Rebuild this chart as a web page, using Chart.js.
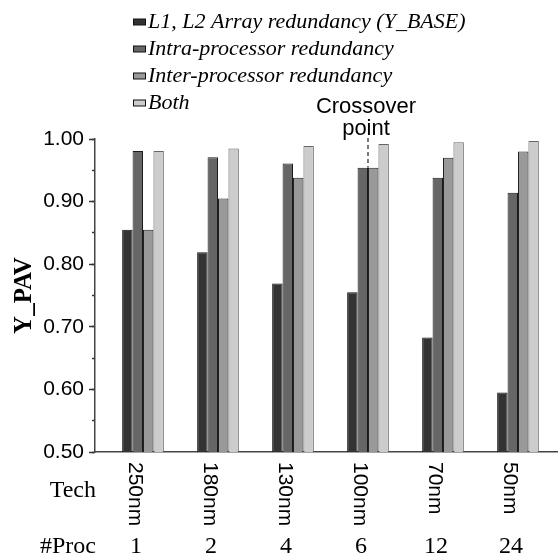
<!DOCTYPE html>
<html>
<head>
<meta charset="utf-8">
<script src="https://cdn.jsdelivr.net/npm/chart.js@4.4.1/dist/chart.umd.min.js"></script>
<style>
  html, body { margin: 0; padding: 0; background: #fff; }
  canvas { display: block; }
</style>
</head>
<body>
<canvas id="c" width="560" height="557"></canvas>
<script>
const techLabels = ['250nm', '180nm', '130nm', '100nm', '70nm', '50nm'];
const procLabels = ['1', '2', '4', '6', '12', '24'];
const seriesNames = ['L1, L2 Array redundancy (Y_BASE)', 'Intra-processor redundancy', 'Inter-processor redundancy', 'Both'];
const baseY  = [0.855, 0.819, 0.769, 0.755, 0.683, 0.595];
const intraY = [0.981, 0.971, 0.961, 0.954, 0.938, 0.914];
const interY = [0.855, 0.905, 0.938, 0.954, 0.970, 0.980];
const bothY  = [0.981, 0.985, 0.989, 0.992, 0.995, 0.997];
const yTickValues = [0.5, 0.6, 0.7, 0.8, 0.9, 1.0];
const crossoverIndex = 3;
const crossoverText = ['Crossover', 'point'];
const rowTitles = ['Tech', '#Proc'];

const fills = ['#333333', '#666666', '#999999', '#cccccc'];
const borders = ['#111111', '#1a1a1a', '#222222', '#666666'];

function legendImage(fill, border) {
  const cv = document.createElement('canvas');
  cv.width = 30; cv.height = 9;
  const g = cv.getContext('2d');
  g.fillStyle = fill;
  g.fillRect(13.5, 1.5, 12, 6);
  g.strokeStyle = border;
  g.lineWidth = 1;
  g.strokeRect(13.5, 1.5, 12, 6);
  return cv;
}
const legendImgs = fills.map((f) => legendImage(f, '#111'));

const allSeries = [baseY, intraY, interY, bothY];
const datasets = allSeries.map((vals, i) => ({
  label: seriesNames[i],
  data: vals.map((v, j) => ({ x: j, y: v })),
  backgroundColor: fills[i],
  borderColor: borders[i],
  borderWidth: 1,
  categoryPercentage: 0.556,
  barPercentage: 1.0
}));

const overlayPlugin = {
  id: 'overlay',
  afterLayout(chart) {
    const lg = chart.legend;
    if (lg) {
      lg.left = 128; lg.top = 6;
      lg.right = lg.left + 420; lg.bottom = lg.top + 200;
    }
  },
  afterDraw(chart) {
    const ctx = chart.ctx;
    const xs = chart.scales.x, ys = chart.scales.y;
    ctx.save();
    ctx.fillStyle = '#000';
    ctx.font = '21px "Liberation Sans", Arial, sans-serif';
    ctx.textAlign = 'left';
    ctx.textBaseline = 'alphabetic';
    techLabels.forEach((t, i) => {
      const px = xs.getPixelForValue(i);
      ctx.save();
      ctx.translate(px - 13.8, ys.bottom + 10);
      ctx.rotate(Math.PI / 2);
      ctx.fillText(t, 0, 0);
      ctx.restore();
    });
    ctx.font = '24px "Liberation Serif", "Times New Roman", serif';
    ctx.textAlign = 'right';
    ctx.textBaseline = 'middle';
    ctx.fillText(rowTitles[0], ys.right + 1, ys.bottom + 39);
    ctx.fillText(rowTitles[1], ys.right + 1, ys.bottom + 95);
    const cx = xs.getPixelForValue(crossoverIndex);
    const topY = ys.getPixelForValue(1.0);
    ctx.font = '22px "Liberation Sans", Arial, sans-serif';
    ctx.textAlign = 'center';
    ctx.textBaseline = 'alphabetic';
    ctx.fillText(crossoverText[0], cx - 2, topY - 26);
    ctx.fillText(crossoverText[1], cx - 2, topY - 4);
    ctx.strokeStyle = '#222';
    ctx.lineWidth = 1.2;
    ctx.setLineDash([4, 3]);
    ctx.beginPath();
    ctx.moveTo(cx, topY - 1);
    ctx.lineTo(cx, ys.getPixelForValue(intraY[crossoverIndex]));
    ctx.stroke();
    ctx.restore();
  }
};

new Chart(document.getElementById('c'), {
  type: 'bar',
  data: { datasets },
  plugins: [overlayPlugin],
  options: {
    responsive: false,
    animation: false,
    devicePixelRatio: 1,
    layout: { padding: { left: 0, right: 3, top: 139, bottom: 0 } },
    plugins: {
      tooltip: { enabled: false },
      legend: {
        position: 'chartArea',
        align: 'start',
        labels: {
          usePointStyle: true,
          pointStyleWidth: 4,
          padding: 5,
          color: '#000',
          font: { family: '"Liberation Serif", "Times New Roman", serif', size: 22, style: 'italic' },
          generateLabels: (chart) => chart.data.datasets.map((ds, i) => ({
            text: ds.label,
            fillStyle: ds.backgroundColor,
            strokeStyle: '#111',
            lineWidth: 0,
            pointStyle: legendImgs[i],
            fontColor: '#000',
            hidden: false,
            datasetIndex: i
          }))
        }
      }
    },
    scales: {
      x: {
        type: 'linear',
        offset: false,
        bounds: 'data',
        min: -0.64,
        max: 5.52,
        afterBuildTicks: (s) => { s.ticks = procLabels.map((_, i) => ({ value: i })); },
        afterFit: (s) => { s.height = 105; },
        grid: { display: false, drawTicks: false, offset: false },
        border: { display: true, color: '#444', width: 1.5 },
        ticks: {
          autoSkip: false, maxRotation: 0, minRotation: 0,
          padding: 8, labelOffset: -7,
          color: '#000',
          font: { family: '"Liberation Serif", "Times New Roman", serif', size: 24, lineHeight: 7.2 },
          callback: (v) => procLabels[v]
        }
      },
      y: {
        position: 'left',
        weight: 0,
        min: 0.5,
        max: 1.0,
        afterFit: (s) => { s.width = 95; },
        afterBuildTicks: (s) => { s.ticks = yTickValues.map(v => ({ value: v })); },
        ticks: {
          padding: 5,
          color: '#000',
          font: { family: '"Liberation Sans", Arial, sans-serif', size: 21 },
          callback: (v) => Number(v).toFixed(2)
        },
        grid: { drawOnChartArea: false, drawTicks: true, tickLength: 6, tickColor: '#333', tickWidth: 1.5 },
        border: { display: true, color: '#444', width: 1.5 },
        title: {
          display: true,
          text: 'Y_PAV',
          color: '#000',
          font: { family: '"Liberation Serif", "Times New Roman", serif', size: 25, weight: 'bold' },
          padding: { top: 10, bottom: 0 }
        }
      },
      yMinor: {
        position: 'left',
        weight: -1,
        min: 0.5,
        max: 1.0,
        afterFit: (s) => { s.width = 0; },
        ticks: { display: false, stepSize: 0.05 },
        grid: { drawOnChartArea: false, drawTicks: true, tickLength: 3, tickColor: '#333', tickWidth: 1.5 },
        border: { display: false }
      }
    }
  }
});
</script>
</body>
</html>
